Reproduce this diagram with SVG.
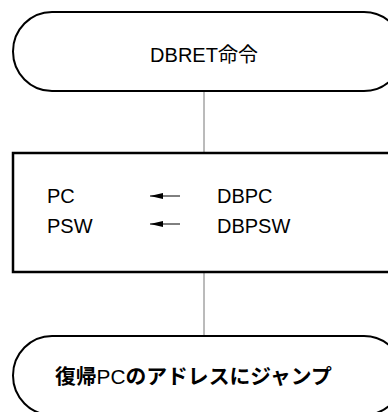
<svg xmlns="http://www.w3.org/2000/svg" width="388" height="412" viewBox="0 0 388 412">
<defs>
<style>
.term{fill:#fff;stroke:#000;stroke-width:2}
.box{fill:#fff;stroke:#000;stroke-width:2.5}
.conn{stroke:#777;stroke-width:1;fill:none}
.t{font-family:"Liberation Sans","Noto Sans CJK JP",sans-serif;font-size:20px;fill:#000}
.b{font-weight:bold;font-size:20.8px}
.n{font-weight:normal}
.arr{stroke:#000;stroke-width:1;fill:none}
</style>
<marker id="ah" viewBox="0 0 13 6" refX="13" refY="3" markerWidth="13" markerHeight="6" markerUnits="userSpaceOnUse" orient="auto">
<path d="M13,3 L0,0 L0,6 Z" fill="#000"/>
</marker>
</defs>
<rect width="388" height="412" fill="#fff"/>
<g id="connectors">
<line class="conn" x1="204" y1="91" x2="204" y2="153"/>
<line class="conn" x1="204" y1="272" x2="204" y2="336"/>
</g>
<g id="start">
<rect class="term" x="13" y="12" width="390" height="79" rx="39" ry="39.5"/>
<text class="t" x="204" y="62" text-anchor="middle">DBRET命令</text>
</g>
<g id="process">
<rect class="box" x="13" y="153" width="390" height="119"/>
<text class="t" x="47" y="203">PC</text>
<text class="t" x="47" y="233">PSW</text>
<line class="arr" x1="180" y1="196" x2="150" y2="196" marker-end="url(#ah)"/>
<line class="arr" x1="180" y1="224" x2="150" y2="224" marker-end="url(#ah)"/>
<text class="t" x="217" y="203">DBPC</text>
<text class="t" x="217" y="233">DBPSW</text>
</g>
<g id="end">
<rect class="term" x="13" y="336" width="390" height="79" rx="39" ry="39.5"/>
<text class="t b" x="55" y="384">復帰<tspan class="n">PC</tspan>のアドレスにジャンプ</text>
</g>
</svg>
